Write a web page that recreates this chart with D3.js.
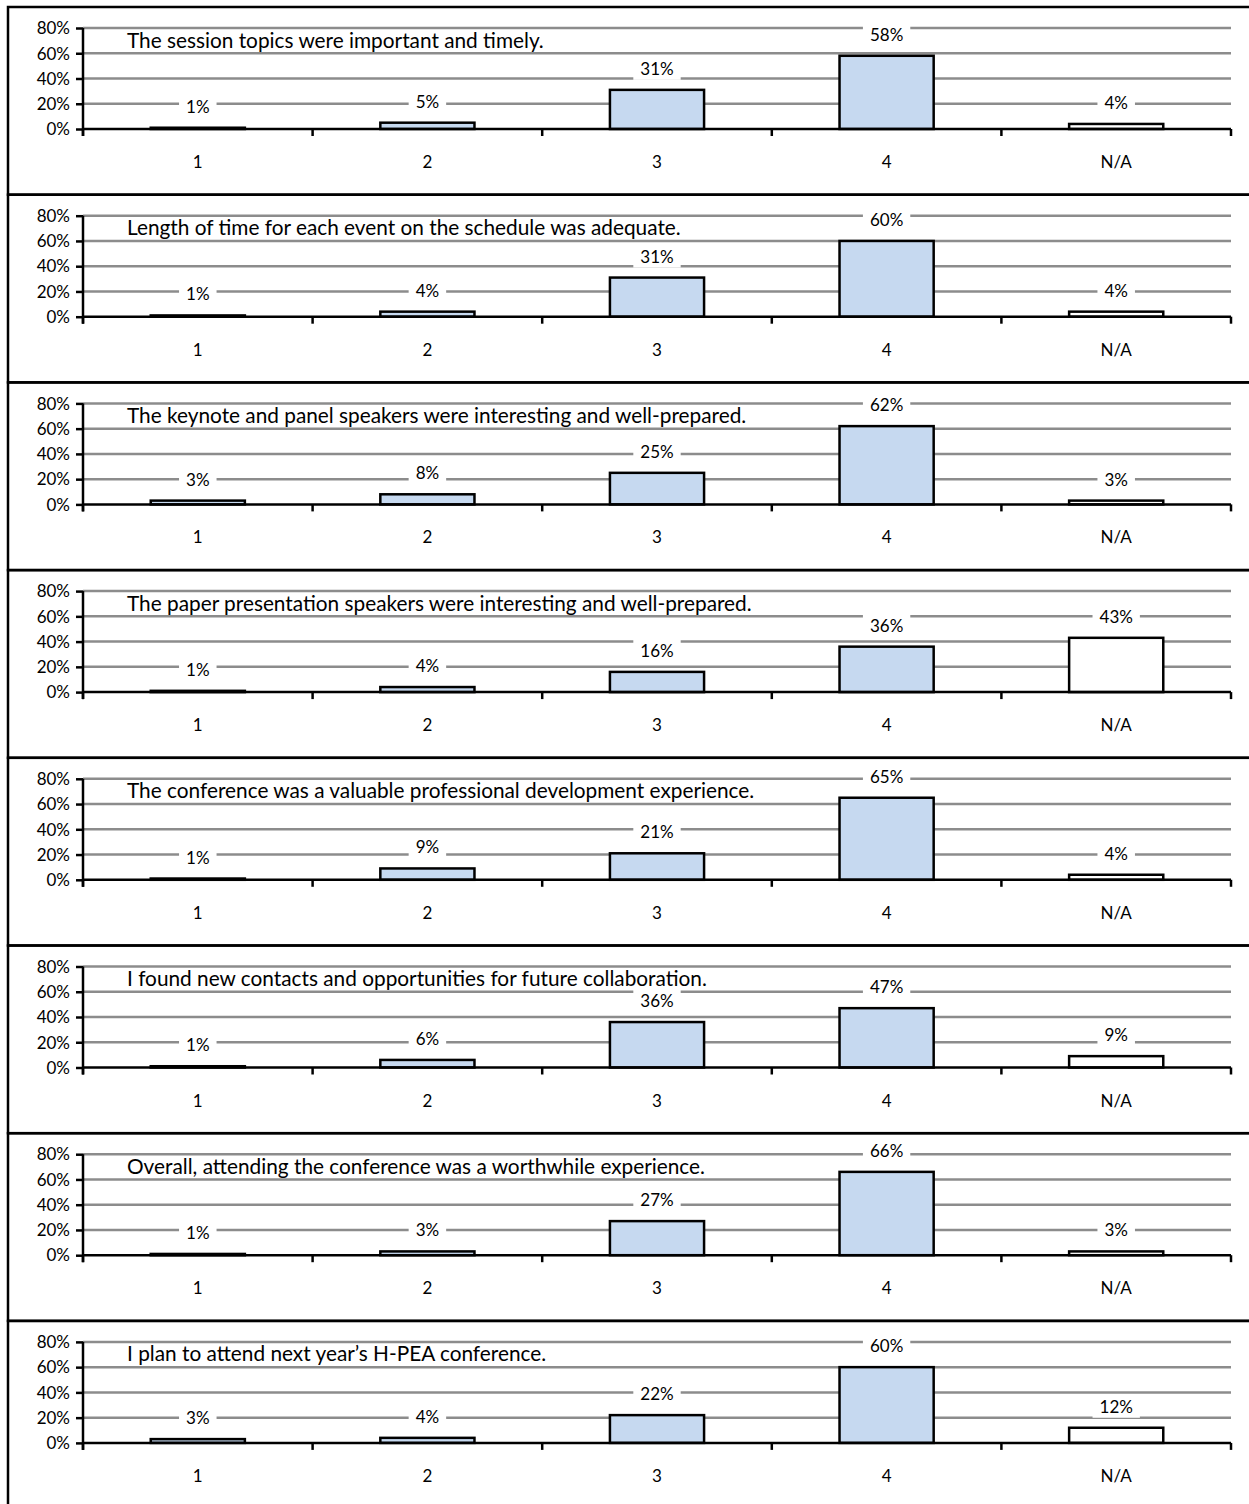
<!DOCTYPE html>
<html>
<head>
<meta charset="utf-8">
<script src="https://cdn.jsdelivr.net/npm/d3@7"></script>
<style>
  html, body { margin: 0; padding: 0; background: #fff; }
  svg { display: block; }
  text { font-family: Lato, "Open Sans", sans-serif; fill: #000; }
</style>
</head>
<body>
<script>
// Rating categories on the x axis
const categories = ["1", "2", "3", "4", "N/A"];

// Y axis tick values (percent)
const yTicks = [0, 20, 40, 60, 80];

// Survey statements, one panel each
const statements = [
  "The session topics were important and timely.",
  "Length of time for each event on the schedule was adequate.",
  "The keynote and panel speakers were interesting and well-prepared.",
  "The paper presentation speakers were interesting and well-prepared.",
  "The conference was a valuable professional development experience.",
  "I found new contacts and opportunities for future collaboration.",
  "Overall, attending the conference was a worthwhile experience.",
  "I plan to attend next year\u2019s H-PEA conference."
];

// Share of responses (%) per rating, in category order
const sessionTopics   = [1, 5, 31, 58, 4];
const lengthOfTime    = [1, 4, 31, 60, 4];
const keynoteSpeakers = [3, 8, 25, 62, 3];
const paperSpeakers   = [1, 4, 16, 36, 43];
const professionalDev = [1, 9, 21, 65, 4];
const newContacts     = [1, 6, 36, 47, 9];
const worthwhile      = [1, 3, 27, 66, 3];
const attendNextYear  = [3, 4, 22, 60, 12];

const panelValues = [sessionTopics, lengthOfTime, keynoteSpeakers, paperSpeakers,
                     professionalDev, newContacts, worthwhile, attendNextYear];

const W = 1249, H = 1504;
const panelTop0 = 7, panelH = 187.7;
const plotLeft = 83, plotRight = 1231;
const zeroOff = 122, topOff = 21;
const labelSize = 17;

const svg = d3.select("body").append("svg")
  .attr("width", W).attr("height", H);

const x = d3.scaleBand().domain(categories).range([plotLeft, plotRight]).padding(0);
const barFrac = 0.41;

statements.forEach((title, i) => {
  const top = panelTop0 + i * panelH;
  const values = panelValues[i];
  const data = categories.map((c, j) => ({ cat: c, v: values[j] }));
  const y = d3.scaleLinear().domain([0, 80]).range([top + zeroOff, top + topOff]);

  const g = svg.append("g");

  // panel frame
  g.append("rect")
    .attr("x", 8).attr("y", top)
    .attr("width", 1260).attr("height", panelH)
    .attr("fill", "none").attr("stroke", "#000").attr("stroke-width", 2.5);

  // gridlines
  g.selectAll(".grid").data(yTicks.filter(t => t > 0)).enter().append("line")
    .attr("x1", plotLeft).attr("x2", plotRight)
    .attr("y1", d => y(d)).attr("y2", d => y(d))
    .attr("stroke", "#8c8c8c").attr("stroke-width", 2.5);

  // statement title
  g.append("text")
    .attr("x", 127).attr("y", top + 40.5)
    .attr("font-size", 20.8)
    .text(title);

  // y axis
  const yAxis = d3.axisLeft(y).tickValues(yTicks).tickSize(7).tickPadding(6)
    .tickFormat(d => d + "%");
  const ya = g.append("g").attr("transform", `translate(${plotLeft},0)`).call(yAxis);
  ya.select(".domain").attr("stroke", "#000").attr("stroke-width", 2.5)
    .attr("d", `M0,${top + topOff}V${top + zeroOff + 7}`);
  ya.selectAll(".tick line").attr("stroke", "#000").attr("stroke-width", 2.5);
  ya.selectAll(".tick text").attr("font-size", labelSize).attr("font-family", "Lato, sans-serif")
    .attr("fill", "#000").attr("dy", "0.34em");

  // bars
  g.selectAll(".bar").data(data).enter().append("rect")
    .attr("x", d => x(d.cat) + x.bandwidth() * (1 - barFrac) / 2)
    .attr("width", x.bandwidth() * barFrac)
    .attr("y", d => y(d.v))
    .attr("height", d => y(0) - y(d.v))
    .attr("fill", d => d.cat === "N/A" ? "#ffffff" : "#c6d9f0")
    .attr("stroke", "#000").attr("stroke-width", 2.5);

  // x axis baseline and boundary ticks
  g.append("line")
    .attr("x1", plotLeft).attr("x2", plotRight)
    .attr("y1", y(0)).attr("y2", y(0))
    .attr("stroke", "#000").attr("stroke-width", 2.5);
  const bounds = categories.map(c => x(c)).concat([plotRight]);
  g.selectAll(".xtick").data(bounds).enter().append("line")
    .attr("x1", d => d).attr("x2", d => d)
    .attr("y1", y(0)).attr("y2", y(0) + 7)
    .attr("stroke", "#000").attr("stroke-width", 2.5);

  // category labels
  g.selectAll(".cat").data(categories).enter().append("text")
    .attr("x", d => x(d) + x.bandwidth() / 2)
    .attr("y", top + 161)
    .attr("text-anchor", "middle").attr("font-size", labelSize)
    .text(d => d);

  // value labels with white backing
  const lab = g.selectAll(".lab").data(data).enter().append("g");
  lab.append("rect")
    .attr("fill", "#fff");
  lab.append("text")
    .attr("x", d => x(d.cat) + x.bandwidth() / 2)
    .attr("y", d => y(d.v) - 15)
    .attr("text-anchor", "middle").attr("font-size", labelSize)
    .text(d => d.v + "%");
  lab.each(function () {
    const t = d3.select(this).select("text");
    const b = t.node().getBBox();
    d3.select(this).select("rect")
      .attr("x", b.x - 7).attr("y", b.y - 1)
      .attr("width", b.width + 14).attr("height", b.height + 2);
  });
});
</script>
</body>
</html>
